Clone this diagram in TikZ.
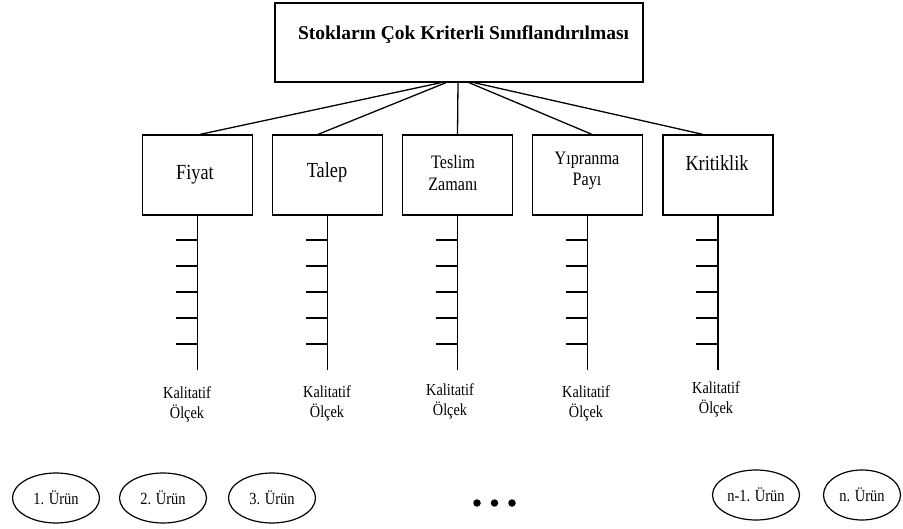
\documentclass[tikz,border=0pt]{standalone}
\usepackage{fontspec}
\setmainfont{Liberation Serif}
\newfontfamily\narrowserif{Liberation Serif}[FakeStretch=0.85]
\usetikzlibrary{shapes.geometric}
\tikzset{
  critbox/.style={draw, line width=1.2pt, minimum width=110pt, minimum height=80pt, inner sep=0pt},
  crittext/.style={align=center, inner sep=0pt, font=\narrowserif\fontsize{21.5}{24}\selectfont},
  crittwo/.style={align=center, inner sep=0pt, font=\narrowserif\fontsize{19}{21.5}\selectfont},
  scalelab/.style={align=center, inner sep=0pt, font=\narrowserif\fontsize{16.8}{20}\selectfont},
  urun/.style={draw, ellipse, line width=1.2pt, minimum width=87pt, minimum height=50pt, inner sep=0pt, font=\narrowserif\fontsize{17}{18}\selectfont},
  link/.style={line width=1.3pt},
  tick/.style={line width=1.2pt},
  dotmark/.style={circle, fill=black, inner sep=0pt, minimum size=7.5pt}
}
\begin{document}
\begin{tikzpicture}[x=1pt,y=-1pt]
\useasboundingbox (0,0) rectangle (903,529);
% top box
\node[draw, line width=1.3pt, minimum width=368pt, minimum height=79pt, inner sep=0pt] (top) at (459,42.5) {};
\node[inner sep=0pt, font=\bfseries\fontsize{19.5}{22}\selectfont] (title) at (463.5,35) {Stokların Çok Kriterli Sınıflandırılması};
% criteria boxes
\node[critbox] (fiyat) at (197.5,175) {};
\node[critbox] (talep) at (327.5,175) {};
\node[critbox] (teslim) at (457.5,175) {};
\node[critbox] (yip) at (587.5,175) {};
\node[critbox] (krit) at (718,175) {};
\node[crittext] (fiyatT) at (195,175) {Fiyat};
\node[crittext] (talepT) at (327,172) {Talep};
\node[crittwo] (teslimT) at (453,173) {Teslim\\Zamanı};
\node[crittwo] (yipT) at (587,171) {Yıpranma\\Payı};
\node[crittext] (kritT) at (717,163) {Kritiklik};
% links from top box
\draw[link] ([xshift=-18pt]top.south) -- ([xshift=2.5pt]fiyat.north);
\draw[link] ([xshift=-13pt]top.south) -- ([xshift=-9.5pt]talep.north);
\draw[link] ([xshift=-1pt]top.south) -- (teslim.north);
\draw[link] ([xshift=10pt]top.south) -- ([xshift=4.5pt]yip.north);
\draw[link] ([xshift=15pt]top.south) -- ([xshift=-15pt]krit.north);
% scales
\foreach \n in {fiyat,talep,teslim,yip,krit}{
  \draw[tick] (\n.south) -- (\n.south |- 0,370) coordinate (\n-end);
  \foreach \t in {240,266,292,318,344}{
    \draw[tick] (\n.south |- 0,\t) -- ++(-22,0);
  }
}
\node[scalelab] (fiyatK) at (187,404) {Kalitatif\\Ölçek};
\node[scalelab] (talepK) at (327,403) {Kalitatif\\Ölçek};
\node[scalelab] (teslimK) at (450,401) {Kalitatif\\Ölçek};
\node[scalelab] (yipK) at (586,403) {Kalitatif\\Ölçek};
\node[scalelab] (kritK) at (716,399) {Kalitatif\\Ölçek};
% products
\node[urun] (u1) at (56,498) {1. Ürün};
\node[urun] (u2) at (163,498) {2. Ürün};
\node[urun] (u3) at (272,498) {3. Ürün};
\node[urun] (un1) at (756,495) {n-1. Ürün};
\node[urun, minimum width=77pt] (un) at (862,495) {n. Ürün};
\node[dotmark] (d1) at (477,503) {};
\node[dotmark] (d2) at (494.5,503) {};
\node[dotmark] (d3) at (512,503) {};
\end{tikzpicture}
\end{document}
